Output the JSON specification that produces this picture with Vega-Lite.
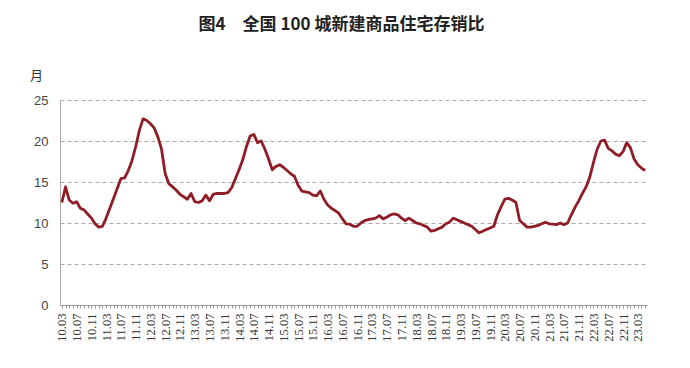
{
  "$schema": "https://vega.github.io/schema/vega-lite/v6.json",
  "width": 587,
  "height": 205,
  "autosize": {"type": "none"},
  "padding": {"left": 60, "top": 100, "right": 43, "bottom": 63},
  "background": "#ffffff",
  "config": {"view": {"stroke": null}},
  "title": {
    "text": "图4\u3000全国 100 城新建商品住宅存销比",
    "font": "Noto Sans CJK SC",
    "fontSize": 17,
    "fontWeight": "bold",
    "color": "#222222",
    "anchor": "middle",
    "dx": -12,
    "offset": 35
  },
  "data": {
    "values": [
      {"m": "10.03", "v": 12.5}, {"m": "10.04", "v": 14.4}, {"m": "10.05", "v": 12.8}, {"m": "10.06", "v": 12.4},
      {"m": "10.07", "v": 12.6}, {"m": "10.08", "v": 11.8}, {"m": "10.09", "v": 11.6}, {"m": "10.10", "v": 11.1},
      {"m": "10.11", "v": 10.6}, {"m": "10.12", "v": 9.9}, {"m": "11.01", "v": 9.5}, {"m": "11.02", "v": 9.6},
      {"m": "11.03", "v": 10.6}, {"m": "11.04", "v": 11.8}, {"m": "11.05", "v": 13.0}, {"m": "11.06", "v": 14.2},
      {"m": "11.07", "v": 15.4}, {"m": "11.08", "v": 15.5}, {"m": "11.09", "v": 16.4}, {"m": "11.10", "v": 17.6},
      {"m": "11.11", "v": 19.3}, {"m": "11.12", "v": 21.3}, {"m": "12.01", "v": 22.7}, {"m": "12.02", "v": 22.5},
      {"m": "12.03", "v": 22.1}, {"m": "12.04", "v": 21.6}, {"m": "12.05", "v": 20.5}, {"m": "12.06", "v": 19.0},
      {"m": "12.07", "v": 16.0}, {"m": "12.08", "v": 14.8}, {"m": "12.09", "v": 14.4}, {"m": "12.10", "v": 14.0},
      {"m": "12.11", "v": 13.5}, {"m": "12.12", "v": 13.2}, {"m": "13.01", "v": 12.9}, {"m": "13.02", "v": 13.6},
      {"m": "13.03", "v": 12.6}, {"m": "13.04", "v": 12.5}, {"m": "13.05", "v": 12.7}, {"m": "13.06", "v": 13.4},
      {"m": "13.07", "v": 12.7}, {"m": "13.08", "v": 13.5}, {"m": "13.09", "v": 13.6}, {"m": "13.10", "v": 13.6},
      {"m": "13.11", "v": 13.6}, {"m": "13.12", "v": 13.7}, {"m": "14.01", "v": 14.3}, {"m": "14.02", "v": 15.4},
      {"m": "14.03", "v": 16.5}, {"m": "14.04", "v": 17.7}, {"m": "14.05", "v": 19.3}, {"m": "14.06", "v": 20.6},
      {"m": "14.07", "v": 20.8}, {"m": "14.08", "v": 19.8}, {"m": "14.09", "v": 20.0}, {"m": "14.10", "v": 19.0},
      {"m": "14.11", "v": 17.8}, {"m": "14.12", "v": 16.5}, {"m": "15.01", "v": 16.9}, {"m": "15.02", "v": 17.1},
      {"m": "15.03", "v": 16.8}, {"m": "15.04", "v": 16.4}, {"m": "15.05", "v": 16.0}, {"m": "15.06", "v": 15.7},
      {"m": "15.07", "v": 14.6}, {"m": "15.08", "v": 13.9}, {"m": "15.09", "v": 13.8}, {"m": "15.10", "v": 13.7},
      {"m": "15.11", "v": 13.4}, {"m": "15.12", "v": 13.3}, {"m": "16.01", "v": 13.9}, {"m": "16.02", "v": 12.9},
      {"m": "16.03", "v": 12.2}, {"m": "16.04", "v": 11.8}, {"m": "16.05", "v": 11.5}, {"m": "16.06", "v": 11.2},
      {"m": "16.07", "v": 10.5}, {"m": "16.08", "v": 9.9}, {"m": "16.09", "v": 9.85}, {"m": "16.10", "v": 9.6},
      {"m": "16.11", "v": 9.6}, {"m": "16.12", "v": 10.0}, {"m": "17.01", "v": 10.3}, {"m": "17.02", "v": 10.4},
      {"m": "17.03", "v": 10.5}, {"m": "17.04", "v": 10.6}, {"m": "17.05", "v": 10.9}, {"m": "17.06", "v": 10.5},
      {"m": "17.07", "v": 10.7}, {"m": "17.08", "v": 11.0}, {"m": "17.09", "v": 11.1}, {"m": "17.10", "v": 11.0},
      {"m": "17.11", "v": 10.6}, {"m": "17.12", "v": 10.3}, {"m": "18.01", "v": 10.6}, {"m": "18.02", "v": 10.3},
      {"m": "18.03", "v": 10.0}, {"m": "18.04", "v": 9.9}, {"m": "18.05", "v": 9.7}, {"m": "18.06", "v": 9.5},
      {"m": "18.07", "v": 9.0}, {"m": "18.08", "v": 9.1}, {"m": "18.09", "v": 9.3}, {"m": "18.10", "v": 9.5},
      {"m": "18.11", "v": 9.9}, {"m": "18.12", "v": 10.1}, {"m": "19.01", "v": 10.6}, {"m": "19.02", "v": 10.4},
      {"m": "19.03", "v": 10.2}, {"m": "19.04", "v": 10.0}, {"m": "19.05", "v": 9.8}, {"m": "19.06", "v": 9.6},
      {"m": "19.07", "v": 9.2}, {"m": "19.08", "v": 8.8}, {"m": "19.09", "v": 9.0}, {"m": "19.10", "v": 9.2},
      {"m": "19.11", "v": 9.4}, {"m": "19.12", "v": 9.6}, {"m": "20.01", "v": 11.0}, {"m": "20.02", "v": 12.0},
      {"m": "20.03", "v": 12.9}, {"m": "20.04", "v": 13.0}, {"m": "20.05", "v": 12.8}, {"m": "20.06", "v": 12.5},
      {"m": "20.07", "v": 10.3}, {"m": "20.08", "v": 9.9}, {"m": "20.09", "v": 9.5}, {"m": "20.10", "v": 9.5},
      {"m": "20.11", "v": 9.6}, {"m": "20.12", "v": 9.7}, {"m": "21.01", "v": 9.9}, {"m": "21.02", "v": 10.1},
      {"m": "21.03", "v": 9.9}, {"m": "21.04", "v": 9.85}, {"m": "21.05", "v": 9.8}, {"m": "21.06", "v": 10.0},
      {"m": "21.07", "v": 9.8}, {"m": "21.08", "v": 10.0}, {"m": "21.09", "v": 11.0}, {"m": "21.10", "v": 11.9},
      {"m": "21.11", "v": 12.7}, {"m": "21.12", "v": 13.6}, {"m": "22.01", "v": 14.4}, {"m": "22.02", "v": 15.6},
      {"m": "22.03", "v": 17.4}, {"m": "22.04", "v": 19.0}, {"m": "22.05", "v": 20.0}, {"m": "22.06", "v": 20.1},
      {"m": "22.07", "v": 19.1}, {"m": "22.08", "v": 18.8}, {"m": "22.09", "v": 18.4}, {"m": "22.10", "v": 18.2},
      {"m": "22.11", "v": 18.7}, {"m": "22.12", "v": 19.8}, {"m": "23.01", "v": 19.2}, {"m": "23.02", "v": 17.8},
      {"m": "23.03", "v": 17.1}, {"m": "23.04", "v": 16.7}, {"m": "23.05", "v": 16.4}
    ]
  },
  "mark": {"type": "line", "color": "#8e1d27", "strokeWidth": 2.8, "strokeJoin": "round"},
  "encoding": {
    "x": {
      "field": "m",
      "type": "ordinal",
      "sort": null,
      "scale": {"type": "point", "padding": 0.5},
      "axis": {
        "title": null,
        "labelAngle": -90,
        "labelAlign": "right",
        "labelBaseline": "middle",
        "labelFont": "Liberation Serif",
        "labelFontSize": 12.5,
        "labelColor": "#333333",
        "labelOverlap": false,
        "labelPadding": 5,
        "labelExpr": "indexof(['03','07','11'], slice(datum.label, 3)) >= 0 ? datum.label : ''",
        "domainColor": "#999999",
        "tickColor": "#999999",
        "tickSize": 3,
        "grid": false
      }
    },
    "y": {
      "field": "v",
      "type": "quantitative",
      "scale": {"domain": [0, 25], "nice": false},
      "axis": {
        "values": [0, 5, 10, 15, 20, 25],
        "title": "月",
        "titleAngle": 0,
        "titleFont": "Noto Sans CJK SC",
        "titleFontSize": 13,
        "titleFontWeight": "normal",
        "titleColor": "#333333",
        "titleX": -24,
        "titleY": -25,
        "titleAlign": "center",
        "titleBaseline": "middle",
        "labelFont": "Liberation Sans",
        "labelFontSize": 13,
        "labelColor": "#444444",
        "labelPadding": 12,
        "ticks": false,
        "domainColor": "#aaaaaa",
        "grid": true,
        "gridColor": "#aaaaaa",
        "gridDash": [4, 3],
        "gridWidth": 1
      }
    }
  }
}
